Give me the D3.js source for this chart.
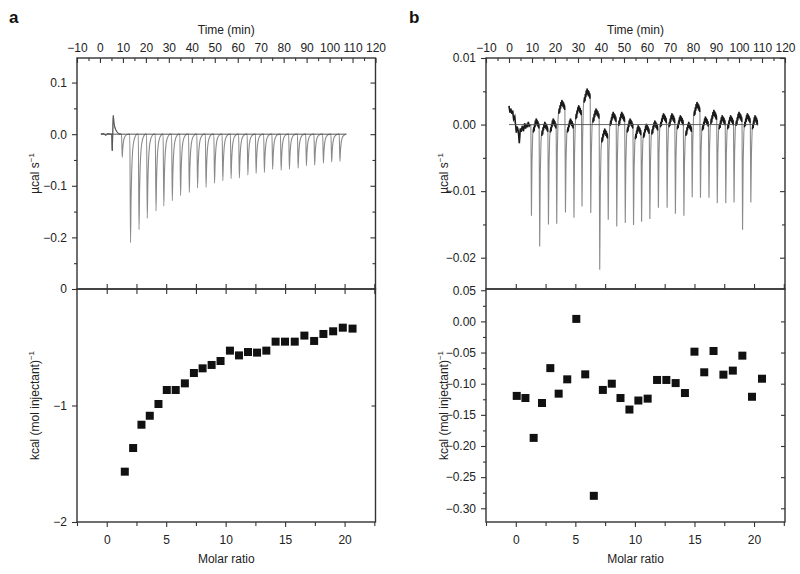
<!DOCTYPE html>
<html><head><meta charset="utf-8">
<script src="https://cdn.jsdelivr.net/npm/d3@7"></script>
<style>
body{margin:0;background:#fff;}
text{font-family:"Liberation Sans",Arial,sans-serif;}
</style></head><body>
<svg id="c" width="800" height="574"></svg>
<script>
// ---------- data ----------
const timeMajor = [-10,0,10,20,30,40,50,60,70,80,90,100,110,120];
const molarMajor = [0,5,10,15,20];

// panel a thermogram (time in min, power in µcal/s)
const aStart = [[0.4,0],[1.5,0.001],[2.5,-0.002],[3.5,0.001],[4.5,0],[5.1,0],[5.35,-0.032],[5.55,-0.002],[5.8,0.036],[6.1,0.022],[6.6,0.012],[7.3,0.005],[8.2,0.001],[9.1,0]];
const aTimes = [9.4,13.0,16.7,20.3,24.1,27.5,31.2,34.8,38.6,42.2,45.9,49.6,53.2,56.8,60.4,64.1,67.7,71.3,74.9,78.6,82.2,86.0,89.6,93.2,97.0,100.6,104.2];
const aDepths = [-0.045,-0.21,-0.185,-0.163,-0.149,-0.139,-0.129,-0.119,-0.113,-0.104,-0.103,-0.095,-0.090,-0.086,-0.085,-0.079,-0.076,-0.074,-0.068,-0.070,-0.068,-0.066,-0.061,-0.060,-0.056,-0.054,-0.053];
const aEnd = 107.2;

// panel a binding isotherm
const aMolar = [1.52,2.22,2.92,3.62,4.35,5.05,5.8,6.57,7.33,8.06,8.82,9.57,10.36,11.12,11.88,12.64,13.42,14.2,14.99,15.81,16.62,17.44,18.22,19.04,19.85,20.67];
const aHeat = [-1.568,-1.365,-1.165,-1.088,-0.987,-0.867,-0.867,-0.81,-0.721,-0.681,-0.652,-0.618,-0.529,-0.57,-0.541,-0.546,-0.529,-0.452,-0.452,-0.452,-0.40,-0.446,-0.386,-0.363,-0.332,-0.34];

// panel b thermogram
const bStart = [[0,0.0028],[0.4,0.0018],[0.8,0.0024],[1.2,0.0016],[1.6,0.0021],[2.0,0.0008],[2.5,0.0012],[2.9,-0.0002],[3.2,-0.0012],[3.6,-0.0003],[4.0,-0.0009],[4.5,-0.0028],[4.9,-0.0006],[5.3,-0.0011],[5.8,-0.0002],[6.3,-0.001],[6.8,0.0002],[7.2,-0.0006],[7.6,0.0001],[8.0,-0.0004],[8.4,0.0004],[8.8,-0.0002],[9.2,0.0]];
const bTimes = [9.5,13.1,16.9,20.5,24.3,28.0,31.5,35.3,39.2,42.9,46.6,50.3,53.9,57.4,61.0,64.7,68.5,72.1,75.8,79.4,83.0,86.7,90.3,94.0,97.6,101.3,104.9];
const bDepths = [-0.0137,-0.0183,-0.0150,-0.0149,-0.0132,-0.0140,-0.0123,-0.0133,-0.0218,-0.0143,-0.0153,-0.0148,-0.0151,-0.0146,-0.0142,-0.0125,-0.0125,-0.0134,-0.0137,-0.0109,-0.0110,-0.0110,-0.0118,-0.0118,-0.0117,-0.0158,-0.0117];
const bGap = [0.0,-0.0005,0.0,0.0028,0.0,0.002,0.0045,0.0015,-0.0015,0.001,0.001,0.0,-0.001,-0.0008,-0.0003,0.0008,0.0008,0.0005,-0.0005,0.0025,0.0003,0.0013,0.0005,0.0005,0.001,0.0008,0.0005];
const bEnd = 108.1;

// panel b binding isotherm
const bMolar = [0.08,0.81,1.5,2.2,2.9,3.6,4.32,5.08,5.83,6.55,7.31,8.06,8.79,9.54,10.29,11.07,11.86,12.64,13.42,14.2,15.0,15.82,16.6,17.43,18.22,19.02,19.83,20.67];
const bHeat = [-0.1196,-0.123,-0.187,-0.131,-0.075,-0.116,-0.093,0.004,-0.085,-0.28,-0.11,-0.10,-0.123,-0.1415,-0.127,-0.124,-0.094,-0.094,-0.099,-0.115,-0.0486,-0.0817,-0.0475,-0.0855,-0.079,-0.055,-0.121,-0.092];

// shape templates (relative time offset, fraction of peak depth / noise offset)
const aPeakShape = [[0,0],[0.3,1],[0.55,0.6],[0.85,0.32],[1.25,0.15],[1.8,0.06],[2.5,0.015],[3.2,0]];
const bPeakShape = [[0,0],[0.25,1],[0.5,0.4],[0.8,0.12],[1.05,0.05]];
const bNoise = [[0.3,-0.0012],[0.35,-0.0004],[0.4,-0.0010],[0.45,0.0001],[0.5,-0.0004],[0.55,0.0006],[0.6,0.0000],[0.65,0.0009],[0.7,0.0002],[0.75,0.0007],[0.8,-0.0002],[0.85,0.0005],[0.9,-0.0004],[0.94,0.0002],[0.98,-0.0006]];

// ---------- drawing ----------
const svg = d3.select("#c");
const TOP = 58, MID = 289, BOT = 522;
const INK = "#333";

function styleAxis(g){
  g.select(".domain").remove();
  g.selectAll(".tick line").attr("stroke", INK).attr("stroke-width", 1.1);
  g.selectAll(".tick text").attr("fill", "#222").style("font-size", "12px")
   .style("font-family", "'Liberation Sans',Arial,sans-serif");
}
function addAxis(gen, tx, ty){
  const g = svg.append("g").attr("transform", `translate(${tx},${ty})`).call(gen);
  styleAxis(g);
  return g;
}

function drawPanel(cfg){
  const {x0, x1, letter, yTop, yTopMajor, yTopMinor, yTopRight, yTopFmt,
         yBot, yBotMajor, yBotMinor, yBotRight, yBotFmt, upTicks} = cfg;
  const xt = d3.scaleLinear().domain([-10,120]).range([x0,x1]);
  const xm = d3.scaleLinear().domain([-2.5,22.6]).range([x0,x1]);
  const yt = d3.scaleLinear().domain(yTop).range([MID,TOP]);
  const yb = d3.scaleLinear().domain(yBot).range([BOT,MID]);

  cfg.drawTrace(xt, yt);

  svg.append("g").selectAll("rect").data(cfg.molar.map((m,i)=>[m,cfg.heat[i]]))
    .join("rect")
    .attr("x", d=>xm(d[0])-4).attr("y", d=>yb(d[1])-4)
    .attr("width", 8).attr("height", 8).attr("fill", "#111");

  svg.append("rect").attr("x",x0).attr("y",TOP).attr("width",x1-x0).attr("height",MID-TOP)
    .attr("fill","none").attr("stroke",INK).attr("stroke-width",1.4);
  svg.append("rect").attr("x",x0).attr("y",MID).attr("width",x1-x0).attr("height",BOT-MID)
    .attr("fill","none").attr("stroke",INK).attr("stroke-width",1.4);

  addAxis(d3.axisTop(xt).tickValues(timeMajor).tickSizeInner(-5).tickSizeOuter(0).tickPadding(6).tickFormat(d3.format("d")), 0, TOP);
  addAxis(d3.axisTop(xt).tickValues(d3.range(-5,120,10)).tickSizeInner(-3).tickSizeOuter(0).tickFormat(""), 0, TOP);

  addAxis(d3.axisLeft(yt).tickValues(yTopMajor).tickSizeInner(5).tickSizeOuter(0).tickPadding(5).tickFormat(d3.format(yTopFmt)), x0, 0);
  addAxis(d3.axisLeft(yt).tickValues(yTopMinor).tickSizeInner(3).tickSizeOuter(0).tickFormat(""), x0, 0);
  addAxis(d3.axisRight(yt).tickValues(yTopMajor).tickSizeInner(-5).tickSizeOuter(0).tickFormat(""), x1, 0);
  addAxis(d3.axisRight(yt).tickValues(yTopRight).tickSizeInner(-3).tickSizeOuter(0).tickFormat(""), x1, 0);

  addAxis(d3.axisLeft(yb).tickValues(yBotMajor).tickSizeInner(5).tickSizeOuter(0).tickPadding(5).tickFormat(d3.format(yBotFmt)), x0, 0);
  if (yBotMinor.length) addAxis(d3.axisLeft(yb).tickValues(yBotMinor).tickSizeInner(3).tickSizeOuter(0).tickFormat(""), x0, 0);
  addAxis(d3.axisRight(yb).tickValues(yBotRight).tickSizeInner(-4).tickSizeOuter(0).tickFormat(""), x1, 0);

  addAxis(d3.axisBottom(xm).tickValues(molarMajor).tickSizeInner(5).tickSizeOuter(0).tickPadding(8).tickFormat(d3.format("d")), 0, BOT);
  addAxis(d3.axisBottom(xm).tickValues(d3.range(-2.5,22.6,5)).tickSizeInner(4).tickSizeOuter(0).tickFormat(""), 0, BOT);
  addAxis(d3.axisBottom(xm).tickValues(d3.range(0,22.6,2.5)).tickSizeInner(-5).tickSizeOuter(0).tickFormat(""), 0, MID);
  if (upTicks) addAxis(d3.axisTop(xm).tickValues(d3.range(0,22.6,2.5)).tickSizeInner(-5).tickSizeOuter(0).tickFormat(""), 0, MID);

  const cx = (x0+x1)/2;
  svg.append("text").attr("x", cx).attr("y", 34).attr("text-anchor","middle")
    .style("font-size","12px").attr("fill","#222").text("Time (min)");
  svg.append("text").attr("x", cx).attr("y", 563).attr("text-anchor","middle")
    .style("font-size","12px").attr("fill","#222").text("Molar ratio");
  svg.append("text").attr("x", cfg.letterX).attr("y", 23)
    .style("font-size","17px").style("font-weight","bold").attr("fill","#111").text(letter);

  const lx = x0 - 38;
  const t1 = svg.append("text").attr("transform", `translate(${lx},${(TOP+MID)/2}) rotate(-90)`)
    .attr("text-anchor","middle").style("font-size","12px").attr("fill","#222");
  t1.append("tspan").text("µcal s");
  t1.append("tspan").attr("dy",-5).style("font-size","8px").text("−1");
  const t2 = svg.append("text").attr("transform", `translate(${lx},${(MID+BOT)/2}) rotate(-90)`)
    .attr("text-anchor","middle").style("font-size","12px").attr("fill","#222");
  t2.append("tspan").text("kcal (mol injectant)");
  t2.append("tspan").attr("dy",-5).style("font-size","8px").text("−1");
}

// panel a
drawPanel({
  x0: 77, x1: 375.5, letter: "a", letterX: 9,
  yTop: [-0.3, 0.1476], yTopMajor: [-0.2,-0.1,0,0.1], yTopMinor: [-0.25,-0.15,-0.05,0.05],
  yTopRight: [-0.25,-0.15,-0.05,0.05], yTopFmt: ".1f",
  yBot: [-2, 0], yBotMajor: [-2,-1,0], yBotMinor: [], yBotRight: [-1], yBotFmt: "d",
  upTicks: true,
  molar: aMolar, heat: aHeat,
  drawTrace(xt, yt){
    const pts = aStart.slice();
    aTimes.forEach((t,i)=>{
      aPeakShape.forEach(([dt,f])=>pts.push([t+dt, f*aDepths[i]]));
    });
    pts.push([aEnd, 0]);
    const line = d3.line().x(d=>xt(d[0])).y(d=>yt(d[1])).curve(d3.curveMonotoneX);
    svg.append("path").attr("d", line(pts)).attr("fill","none")
      .attr("stroke","#8a8a8a").attr("stroke-width",1.1);
    svg.append("path").attr("d", d3.line().x(d=>xt(d[0])).y(d=>yt(d[1]))([[0.4,0],[aEnd,0]]))
      .attr("stroke","#555").attr("stroke-width",1).attr("fill","none");
    svg.append("path").attr("d", line(aStart)).attr("fill","none")
      .attr("stroke","#555").attr("stroke-width",1);
  }
});

// panel b
drawPanel({
  x0: 486, x1: 785, letter: "b", letterX: 409,
  yTop: [-0.0247, 0.01], yTopMajor: [-0.02,-0.01,0,0.01], yTopMinor: [-0.015,-0.005,0.005],
  yTopRight: [-0.015,-0.005,0.005], yTopFmt: ".2f",
  yBot: [-0.322, 0.052], yBotMajor: [-0.30,-0.25,-0.20,-0.15,-0.10,-0.05,0,0.05],
  yBotMinor: [-0.275,-0.225,-0.175,-0.125,-0.075,-0.025,0.025],
  yBotRight: [-0.30,-0.25,-0.20,-0.15,-0.10,-0.05,0], yBotFmt: ".2f",
  upTicks: false,
  molar: bMolar, heat: bHeat,
  drawTrace(xt, yt){
    const lin = d3.line().x(d=>xt(d[0])).y(d=>yt(d[1]));
    const pts = bStart.slice();
    const noiseSegs = [bStart.slice()];
    let Lp = bStart[bStart.length-1][1];
    bTimes.forEach((t,i)=>{
      const d = bDepths[i], Ln = bGap[i];
      const tn = i < bTimes.length-1 ? bTimes[i+1] : bEnd;
      bPeakShape.forEach(([dt,f],k)=>{
        const L = k <= 1 ? Lp : Ln;
        pts.push([t+dt, L + f*(d-L)]);
      });
      const seg = [];
      bNoise.forEach(([f,v])=>{
        const p = [t + f*(tn-t), Ln + v];
        pts.push(p); seg.push(p);
      });
      noiseSegs.push(seg);
      Lp = Ln;
    });
    svg.append("path").attr("d", lin(pts)).attr("fill","none")
      .attr("stroke","#8a8a8a").attr("stroke-width",1.1);
    noiseSegs.forEach(s=>{
      svg.append("path").attr("d", lin(s)).attr("fill","none")
        .attr("stroke","#1a1a1a").attr("stroke-width",1.5);
    });
    svg.append("path").attr("d", lin([[0,0],[bEnd,0]]))
      .attr("stroke","#555").attr("stroke-width",0.9).attr("fill","none");
  }
});
</script>
</body></html>
